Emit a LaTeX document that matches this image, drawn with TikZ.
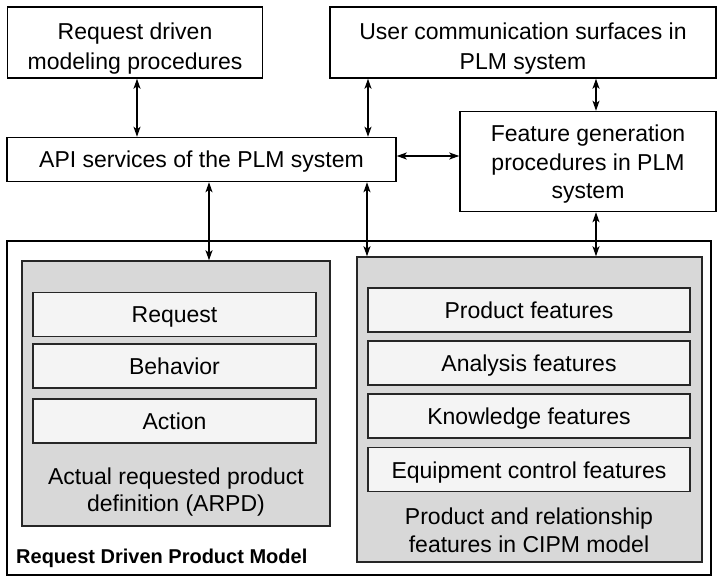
\documentclass[tikz,border=0pt]{standalone}
\usepackage{fontspec}
\setmainfont{Liberation Sans}
\usetikzlibrary{arrows.meta}
\definecolor{panelgray}{HTML}{D8D8D8}
\definecolor{itemfill}{HTML}{F4F4F4}
\tikzset{
  frame/.style={draw=black, line width=1.5pt, fill=white, inner sep=0pt},
  boxtext/.style={align=center, inner sep=0pt, font=\fontsize{23}{30}\selectfont},
  single/.style={draw=black, line width=1.5pt, fill=white, inner sep=0pt,
    text height=18.5pt, text depth=3pt, font=\fontsize{23}{28}\selectfont},
  panel/.style={draw=black!85, line width=1.5pt, fill=panelgray, inner sep=0pt},
  item/.style={draw=black!85, line width=1.5pt, fill=itemfill, inner sep=0pt,
    minimum height=44pt, text height=19.5pt, text depth=2.5pt,
    font=\fontsize{23}{28}\selectfont},
  caption/.style={align=center, inner sep=0pt, font=\fontsize{23}{28}\selectfont},
  biarrow/.style={line width=1.2pt,
    {Stealth[length=10pt,width=7pt,inset=2.5pt]}-{Stealth[length=10pt,width=7pt,inset=2.5pt]}}
}
\begin{document}
\begin{tikzpicture}[x=1pt,y=-1pt]
\useasboundingbox (0,0) rectangle (718,577);

% top row
\node[frame, minimum width=255pt, minimum height=71pt] (rdmp) at (135,42.5) {};
\node[boxtext] (rdmptext) at (135,49) {Request driven\\modeling procedures};
\node[frame, minimum width=386pt, minimum height=71pt] (ucs) at (523,42.5) {};
\node[boxtext] (ucstext) at (523,49) {User communication surfaces in\\PLM system};

% middle row
\node[single, minimum width=389pt, minimum height=44pt] (api) at (201.5,159.5)
  {API services of the PLM system};
\node[frame, minimum width=256pt, minimum height=100pt] (fgp) at (588,161.5) {};
\node[boxtext, font=\fontsize{23}{28.5}\selectfont] (fgptext) at (588,164.5)
  {Feature generation\\procedures in PLM\\system};

% product model frame
\node[frame, minimum width=704pt, minimum height=334pt] (rdpm) at (359,408) {};
\node[anchor=west, inner sep=0pt, font=\fontsize{20}{24}\selectfont\bfseries] (rdpmlabel)
  at (16,558) {Request Driven Product Model};

% ARPD panel
\node[panel, minimum width=308pt, minimum height=265pt] (arpd) at (176,393.5) {};
\node[item, minimum width=283pt] (req) at (174.5,314.5) {Request};
\node[item, minimum width=283pt] (beh) at (174.5,366) {Behavior};
\node[item, minimum width=283pt] (act) at (174.5,421) {Action};
\node[caption, font=\fontsize{23}{27.5}\selectfont] (arpdlabel) at (176,492)
  {Actual requested product\\definition (ARPD)};

% CIPM panel
\node[panel, minimum width=345pt, minimum height=305pt] (cipm) at (529.5,409.5) {};
\node[item, minimum width=322pt] (prodf) at (529,310) {Product features};
\node[item, minimum width=322pt] (anaf) at (529,363) {Analysis features};
\node[item, minimum width=322pt] (knowf) at (529,416) {Knowledge features};
\node[item, minimum width=322pt] (equipf) at (529,469.5) {Equipment control features};
\node[caption] (cipmlabel) at (529,530) {Product and relationship\\features in CIPM model};

% connector columns and row
\coordinate (c1) at (137,0);
\coordinate (c2) at (368,0);
\coordinate (c3) at (596,0);
\coordinate (c4) at (209,0);
\coordinate (c5) at (367,0);
\coordinate (r1) at (0,156);

% connectors
\draw[biarrow] (rdmp.south -| c1) -- (api.north -| c1);
\draw[biarrow] (ucs.south -| c2) -- (api.north -| c2);
\draw[biarrow] (ucs.south -| c3) -- (fgp.north -| c3);
\draw[biarrow] (api.east |- r1) -- (fgp.west |- r1);
\draw[biarrow] (api.south -| c4) -- (arpd.north -| c4);
\draw[biarrow] (api.south -| c5) -- (cipm.north -| c5);
\draw[biarrow] (fgp.south -| c3) -- (cipm.north -| c3);
\end{tikzpicture}
\end{document}
